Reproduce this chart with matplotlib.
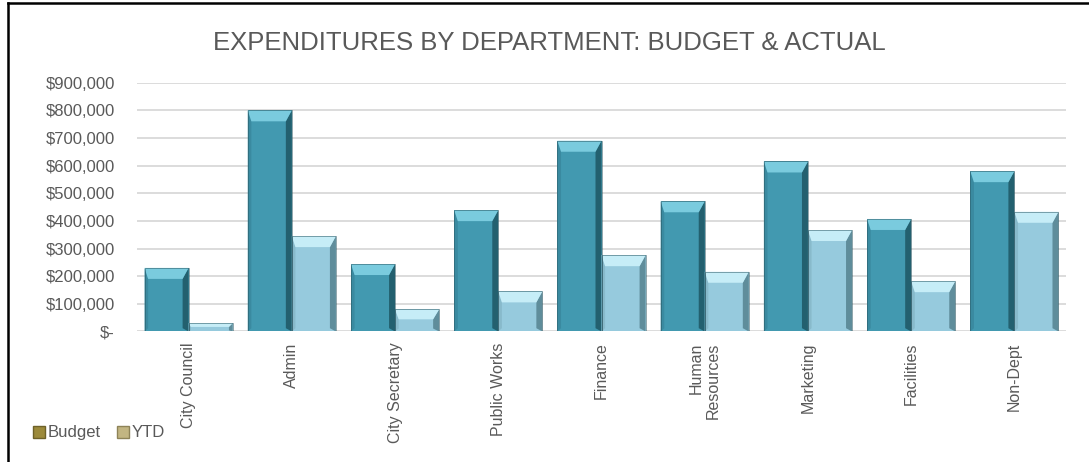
import matplotlib
matplotlib.use("Agg")
import matplotlib.pyplot as plt
from matplotlib.patches import Polygon, Rectangle
from matplotlib.lines import Line2D
import numpy as np

plt.rcParams['font.family'] = ['Liberation Sans Narrow', 'Liberation Sans', 'DejaVu Sans']

categories = ["City Council", "Admin", "City Secretary", "Public Works", "Finance",
              "Human\nResources", "Marketing", "Facilities", "Non-Dept"]
budget = [230000, 800000, 244000, 439000, 690000, 471000, 615000, 407000, 580000]
ytd = [30000, 345000, 80000, 145000, 276000, 216000, 367000, 182000, 433000]
yticks = [0, 100000, 200000, 300000, 400000, 500000, 600000, 700000, 800000, 900000]
ytick_labels = ["$-", "$100,000", "$200,000", "$300,000", "$400,000", "$500,000",
                "$600,000", "$700,000", "$800,000", "$900,000"]
series_names = ["Budget", "YTD"]

TXT = "#595959"
fig = plt.figure(figsize=(10.89, 4.62), dpi=100)
ax = fig.add_axes([0.1258, 0.2825, 0.9789 - 0.1258, 0.821 - 0.2825])

W = 0.427
PX_X = 1 / 103.2          # category units per pixel
PX_Y = 100000 / 27.67     # data units per pixel

styles = [
    dict(face="#4299B0", top="#7ACBDE", right="#23606F", left="#3A8AA0"),
    dict(face="#96CADD", top="#C6EDF7", right="#5F8D9B", left="#88BACB"),
]

def bevel_bar(ax, xc, v, st):
    x0, x1 = xc - W / 2, xc + W / 2
    ex = 6 * PX_X
    ey = min(11 * PX_Y, v * 0.45)
    ex2 = min(ex, ey / PX_Y * PX_X)
    ax.add_patch(Rectangle((x0, 0), W, v, facecolor=st["face"], edgecolor="none", zorder=3))
    ax.add_patch(Polygon([(x0, 0), (x0 + ex2 * 0.6, ey * 0.3), (x0 + ex2 * 0.6, v - ey), (x0, v)],
                         closed=True, facecolor=st["left"], edgecolor="none", zorder=4))
    ax.add_patch(Polygon([(x1, 0), (x1 - ex2, ey * 0.3), (x1 - ex2, v - ey), (x1, v)],
                         closed=True, facecolor=st["right"], edgecolor="none", zorder=4))
    ax.add_patch(Polygon([(x0, v), (x1, v), (x1 - ex2, v - ey), (x0 + ex2 * 0.6, v - ey)],
                         closed=True, facecolor=st["top"], edgecolor="none", zorder=4))
    ax.add_patch(Rectangle((x0, 0), W, v, facecolor="none", edgecolor="#2A5560",
                           linewidth=0.6, alpha=0.6, zorder=5))

x = np.arange(len(categories))
for i in range(len(categories)):
    bevel_bar(ax, x[i] - W / 2, budget[i], styles[0])
    bevel_bar(ax, x[i] + W / 2, ytd[i], styles[1])

ax.set_xlim(-0.5, len(categories) - 0.5)
ax.set_ylim(0, 900000)
ax.set_yticks(yticks)
ax.set_yticklabels(ytick_labels)
ax.set_xticks(x)
ax.set_xticklabels(categories, rotation=90, multialignment="right", fontsize=11.5)
ax.tick_params(axis="both", length=0, colors=TXT)
ax.tick_params(axis="y", pad=16, labelsize=12)
ax.tick_params(axis="x", pad=8)
ax.grid(axis="y", color="#D9D9D9", linewidth=1.3, zorder=0)
ax.set_axisbelow(True)
for s in ax.spines.values():
    s.set_visible(False)

fig.text(0.5046, 0.908, "EXPENDITURES BY DEPARTMENT: BUDGET & ACTUAL",
         ha="center", va="center", fontsize=18.5, color=TXT)

handles = [Line2D([], [], marker="s", linestyle="none", markersize=8,
                  markerfacecolor="#9C8A3A", markeredgecolor="#6E6128"),
           Line2D([], [], marker="s", linestyle="none", markersize=8,
                  markerfacecolor="#C2B582", markeredgecolor="#8E8358")]
fig.legend(handles, series_names, loc="center left", bbox_to_anchor=(0.022, 0.063),
           ncol=2, frameon=False, fontsize=12, handletextpad=0.05, columnspacing=0.8,
           handlelength=1.0, labelcolor=TXT, borderaxespad=0)

fig.add_artist(Line2D([8 / 1089, 8 / 1089], [0, 1 - 3 / 462], color="black", linewidth=1.8))
fig.add_artist(Line2D([8 / 1089, 1], [1 - 3 / 462, 1 - 3 / 462], color="black", linewidth=1.8))

fig.savefig("out.png", dpi=100)
